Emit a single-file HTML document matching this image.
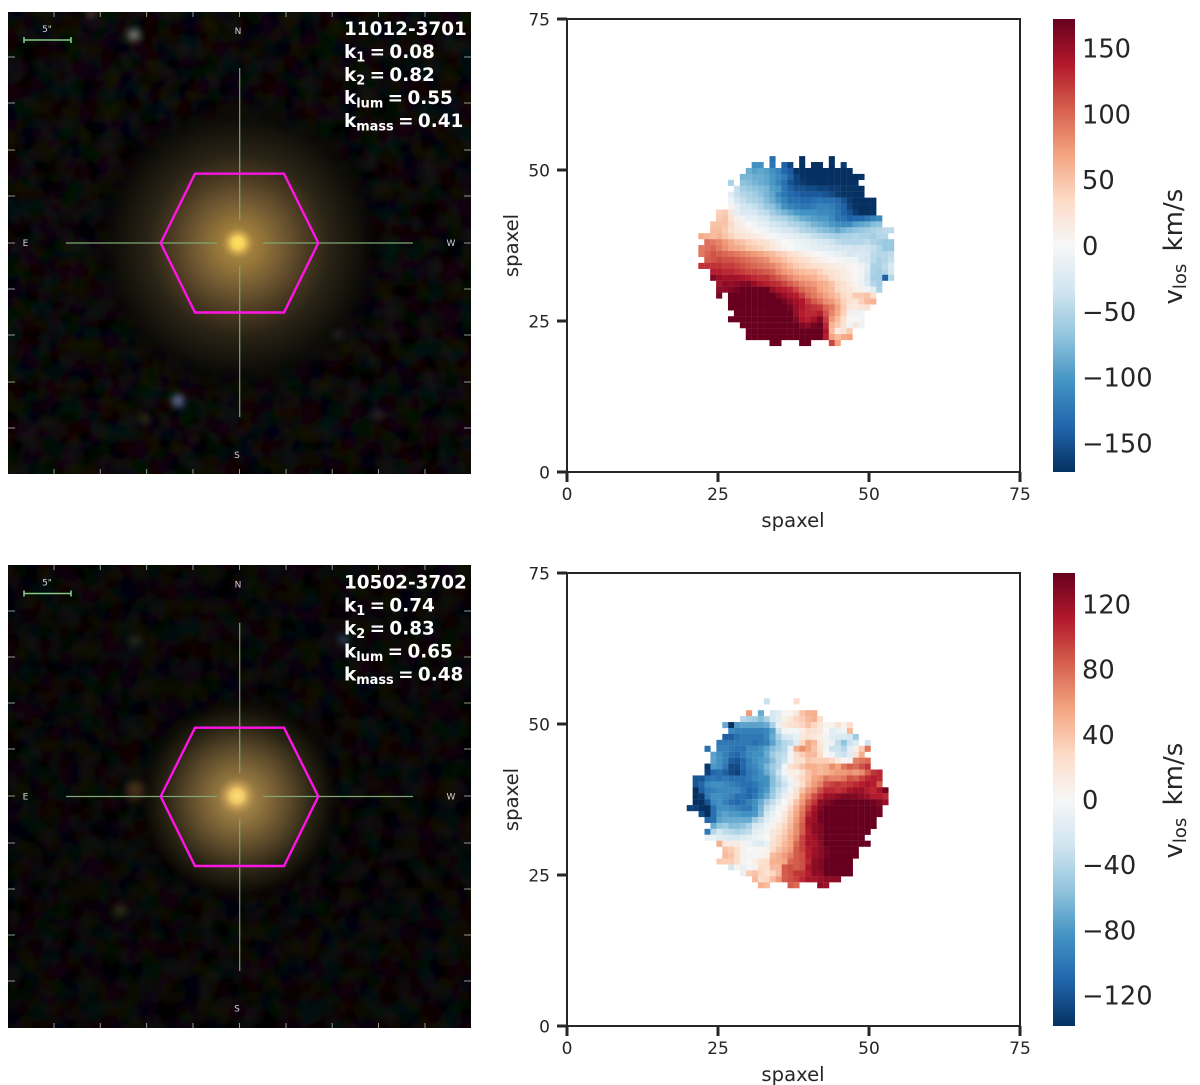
<!DOCTYPE html>
<html lang="en">
<head>
<meta charset="utf-8">
<title>Galaxy images and line-of-sight velocity maps</title>
<style>
html,body{margin:0;padding:0;background:#fff;}
#figure{display:block;width:1200px;height:1085px;font-family:"DejaVu Sans","Liberation Sans",sans-serif;}
.info{font-family:"DejaVu Sans","Liberation Sans",sans-serif;font-weight:bold;font-size:18.4px;fill:#fff;}
.dir{font-family:"DejaVu Sans","Liberation Sans",sans-serif;font-size:9px;fill:#d4d4dc;text-anchor:middle;}
</style>
</head>
<body>
<svg id="figure" xmlns="http://www.w3.org/2000/svg" width="1200" height="1085" viewBox="0 0 1200 1085">
<defs>
<clipPath id="clip-a"><rect x="8" y="12" width="463" height="462"/></clipPath>
<clipPath id="clip-b"><rect x="8" y="565" width="463" height="463"/></clipPath>
<radialGradient id="halo1" gradientUnits="userSpaceOnUse" cx="239" cy="245" r="150">
<stop offset="0" stop-color="#a88840"/><stop offset=".13" stop-color="#9a7a3a"/><stop offset=".3" stop-color="#705832"/><stop offset=".47" stop-color="#473720"/><stop offset=".6" stop-color="#2a2416"/><stop offset=".8" stop-color="#12100a"/><stop offset="1" stop-color="#000" stop-opacity="0"/>
</radialGradient>
<radialGradient id="core1" gradientUnits="userSpaceOnUse" cx="238" cy="243" r="17">
<stop offset="0" stop-color="#ffe45c"/><stop offset=".35" stop-color="#f5cf5c"/><stop offset=".7" stop-color="#d8aa52" stop-opacity=".5"/><stop offset="1" stop-color="#b89448" stop-opacity="0"/>
</radialGradient>
<radialGradient id="halo2" gradientUnits="userSpaceOnUse" cx="239" cy="799" r="105">
<stop offset="0" stop-color="#a88848"/><stop offset=".15" stop-color="#9c7e44"/><stop offset=".3" stop-color="#806638"/><stop offset=".5" stop-color="#574628"/><stop offset=".7" stop-color="#2a2414"/><stop offset=".85" stop-color="#131008"/><stop offset="1" stop-color="#000" stop-opacity="0"/>
</radialGradient>
<radialGradient id="core2" gradientUnits="userSpaceOnUse" cx="237" cy="796" r="19">
<stop offset="0" stop-color="#fde070"/><stop offset=".35" stop-color="#f0c868"/><stop offset=".7" stop-color="#d0a458" stop-opacity=".5"/><stop offset="1" stop-color="#b89550" stop-opacity="0"/>
</radialGradient>
<filter id="soft" x="-100%" y="-100%" width="300%" height="300%"><feGaussianBlur stdDeviation="4"/></filter>
<filter id="noise" x="0" y="0" width="100%" height="100%">
<feTurbulence type="fractalNoise" baseFrequency="0.05" numOctaves="2" seed="7"/>
<feColorMatrix type="matrix" values="1.1 0 0 0 -.42  0 .9 0 0 -.36  0 0 .9 0 -.36  0 0 0 0 .9"/>
</filter>
<linearGradient id="cbar-gradient" x1="0" y1="1" x2="0" y2="0">
<stop offset="0" stop-color="#053061"/><stop offset=".1" stop-color="#2166ac"/><stop offset=".2" stop-color="#4393c3"/><stop offset=".3" stop-color="#92c5de"/><stop offset=".4" stop-color="#d1e5f0"/><stop offset=".5" stop-color="#f7f7f7"/><stop offset=".6" stop-color="#fddbc7"/><stop offset=".7" stop-color="#f4a582"/><stop offset=".8" stop-color="#d6604d"/><stop offset=".9" stop-color="#b2182b"/><stop offset="1" stop-color="#67001f"/>
</linearGradient>
</defs>

<g>
<rect x="8" y="12" width="463" height="462" fill="#000"/>
<rect x="8" y="12" width="463" height="462" filter="url(#noise)" opacity=".13"/>
<circle cx="239" cy="245" r="150" fill="url(#halo1)"/>
<circle cx="238" cy="243" r="17" fill="url(#core1)"/>
<g clip-path="url(#clip-a)">
<circle cx="134" cy="35" r="6" fill="#a89a98" opacity=".8" filter="url(#soft)"/>
<circle cx="91" cy="14" r="5" fill="#8a7a40" opacity=".6" filter="url(#soft)"/>
<circle cx="178" cy="401" r="6" fill="#7a8ab8" opacity=".85" filter="url(#soft)"/>
<circle cx="145" cy="419" r="5" fill="#5a6a30" opacity=".55" filter="url(#soft)"/>
<circle cx="378" cy="415" r="5" fill="#5a4048" opacity=".5" filter="url(#soft)"/>
<circle cx="337" cy="335" r="5" fill="#4a4a40" opacity=".5" filter="url(#soft)"/>
</g>
<g stroke="#7fa673" stroke-width="1.2" fill="none">
<path d="M239.7 68V220"/>
<path d="M239.7 266V417"/>
<path d="M66 243H217"/>
<path d="M263 243H413"/>
</g>
<polygon points="160.7,243 195,173.7 284,173.7 318.3,243 284,312.5 195,312.5" fill="none" stroke="#ff14e6" stroke-width="2.4"/>
<path stroke="#8e9a8e" stroke-width="1" fill="none" d="M54 12v5M100.3 12v5M146.6 12v5M193 12v5M239.5 12v5M286 12v5M332.2 12v5M378.5 12v5M425 12v5M54 474v-5M100.3 474v-5M146.6 474v-5M193 474v-5M239.5 474v-5M286 474v-5M332.2 474v-5M378.5 474v-5M425 474v-5M8 57h7M8 103h7M8 150h7M8 196h7M8 243h7M8 289h7M8 335h7M8 382h7M8 428h7M471 57h-7M471 103h-7M471 150h-7M471 196h-7M471 243h-7M471 289h-7M471 335h-7M471 382h-7M471 428h-7"/>
<path stroke="#86c886" stroke-width="1.6" fill="none" d="M24 40H71M24 37V43M71 37V43"/>
<text class="dir" x="47" y="32">5"</text>
<text class="dir" x="238" y="34">N</text>
<text class="dir" x="25.5" y="246">E</text>
<text class="dir" x="451" y="246">W</text>
<text class="dir" x="237" y="458">S</text>
<g word-spacing="-2">
<text class="info" x="344" y="35">11012-3701</text>
<text class="info" x="344" y="58">k<tspan font-size="12.9" dy="3.5">1</tspan><tspan dy="-3.5"> = 0.08</tspan></text>
<text class="info" x="344" y="81">k<tspan font-size="12.9" dy="3.5">2</tspan><tspan dy="-3.5"> = 0.82</tspan></text>
<text class="info" x="344" y="104">k<tspan font-size="12.9" dy="3.5">lum</tspan><tspan dy="-3.5"> = 0.55</tspan></text>
<text class="info" x="344" y="127">k<tspan font-size="12.9" dy="3.5">mass</tspan><tspan dy="-3.5"> = 0.41</tspan></text>
</g>
</g>

<g>
<rect x="8" y="565" width="463" height="463" fill="#000"/>
<rect x="8" y="565" width="463" height="463" filter="url(#noise)" opacity=".11"/>
<circle cx="239" cy="799" r="105" fill="url(#halo2)"/>
<circle cx="237" cy="796" r="19" fill="url(#core2)"/>
<g clip-path="url(#clip-b)">
<circle cx="135" cy="790" r="10" fill="#6a4528" opacity=".6" filter="url(#soft)"/>
<circle cx="344" cy="640" r="5" fill="#5a78b0" opacity=".6" filter="url(#soft)"/>
<circle cx="120" cy="910" r="6" fill="#4a4a38" opacity=".6" filter="url(#soft)"/>
<circle cx="135" cy="641" r="7" fill="#4a4a20" opacity=".5" filter="url(#soft)"/>
</g>
<g stroke="#7fa673" stroke-width="1.2" fill="none">
<path d="M239.7 622.7V773"/>
<path d="M239.7 819V971"/>
<path d="M66 796.5H217"/>
<path d="M263 796.5H413"/>
</g>
<polygon points="160.7,796.5 195,727.7 284,727.7 318.3,796.5 284,866 195,866" fill="none" stroke="#ff14e6" stroke-width="2.4"/>
<path stroke="#8e9a8e" stroke-width="1" fill="none" d="M54 565v5M100.3 565v5M146.6 565v5M193 565v5M239.5 565v5M286 565v5M332.2 565v5M378.5 565v5M425 565v5M54 1028v-5M100.3 1028v-5M146.6 1028v-5M193 1028v-5M239.5 1028v-5M286 1028v-5M332.2 1028v-5M378.5 1028v-5M425 1028v-5M8 611h7M8 657h7M8 703h7M8 749h7M8 796h7M8 843h7M8 889h7M8 935h7M8 981h7M471 611h-7M471 657h-7M471 703h-7M471 749h-7M471 796h-7M471 843h-7M471 889h-7M471 935h-7M471 981h-7"/>
<path stroke="#86c886" stroke-width="1.6" fill="none" d="M24 593.5H71M24 590.5V596.5M71 590.5V596.5"/>
<text class="dir" x="47" y="585.5">5"</text>
<text class="dir" x="238" y="587.5">N</text>
<text class="dir" x="25.5" y="799.5">E</text>
<text class="dir" x="451" y="799.5">W</text>
<text class="dir" x="237" y="1011.5">S</text>
<g word-spacing="-2">
<text class="info" x="344" y="588.5">10502-3702</text>
<text class="info" x="344" y="611.5">k<tspan font-size="12.9" dy="3.5">1</tspan><tspan dy="-3.5"> = 0.74</tspan></text>
<text class="info" x="344" y="634.5">k<tspan font-size="12.9" dy="3.5">2</tspan><tspan dy="-3.5"> = 0.83</tspan></text>
<text class="info" x="344" y="657.5">k<tspan font-size="12.9" dy="3.5">lum</tspan><tspan dy="-3.5"> = 0.65</tspan></text>
<text class="info" x="344" y="680.5">k<tspan font-size="12.9" dy="3.5">mass</tspan><tspan dy="-3.5"> = 0.48</tspan></text>
</g>
</g>

<g id="map-a"></g>
<g id="map-b"></g>
</svg>

<script>
const _ = null;
const axisTicks = [0, 25, 50, 75];
const axisTickLabels = ["0", "25", "50", "75"];
const rdBuColors = ["#053061","#2166ac","#4393c3","#92c5de","#d1e5f0","#f7f7f7","#fddbc7","#f4a582","#d6604d","#b2182b","#67001f"];

const mapAColorLimit = 172;
const mapAColorTicks = [150, 100, 50, 0, -50, -100, -150];
const mapAColorTickLabels = ["150", "100", "50", "0", "\u221250", "\u2212100", "\u2212150"];
const mapATopRow = 52;
const mapARowStartColumns = [34,31,30,29,27,28,27,27,27,25,25,24,24,22,23,22,22,23,22,24,24,25,25,25,27,27,28,27,29,30,30,34];
const mapAValues = [
[-130,_,_,_,_,-172,_,_,_,_,-172],
[-105,-105,_,-125,_,-140,-160,_,-172,_,-172,-172,_,-172,_,-165],
[-85,-95,-90,-95,-105,-115,-135,-145,-170,-172,-172,-172,-172,-172,-172,-172,-172,-172],
[-80,-80,-85,-85,-90,-100,-110,-120,-140,-160,-170,-172,-172,-172,-172,-172,-172,-172,-172,-172,-170],
[-55,_,-70,-75,-80,-85,-90,-100,-115,-130,-150,-160,-165,-170,-170,-172,-172,-172,-172,-172,-172,-172],
[-40,-60,-65,-70,-75,-80,-95,-100,-125,-140,-150,-150,-155,-155,-160,-160,-165,-165,-170,-170,-170,-172],
[-20,-40,-50,-55,-60,-70,-80,-90,-110,-125,-135,-140,-145,-145,-145,-145,-150,-155,-165,-170,-170,-172,-172],
[-8,-30,-40,-50,-55,-60,-75,-85,-100,-115,-130,-130,-135,-135,-130,-125,-130,-130,-135,-150,-165,-172,-172,-172,-172],
[5,-15,-30,-35,-40,-50,-65,-70,-85,-105,-115,-120,-125,-125,-120,-115,-115,-120,-130,-140,-160,-170,-172,-172,-172],
[40,45,20,-15,-25,-25,-30,-40,-45,-60,-70,-80,-90,-100,-105,-105,-105,-110,-110,-115,-125,-140,-150,-165,-172,-172,-170],
[45,50,25,10,-8,-15,-15,-25,-30,-45,-50,-55,-65,-75,-85,-90,-95,-100,-100,-110,-125,-130,-140,-135,-135,-125,-115,-110],
[50,50,50,35,15,8,0,-5,-15,-18,-30,-35,-40,-50,-55,-60,-70,-80,-85,-90,-100,-105,-110,-110,-95,-90,-85,-75,-70],
[55,55,45,30,20,15,10,3,-3,-10,-15,-20,-30,-30,-40,-50,-55,-60,-70,-75,-80,-90,-80,-75,-70,-65,-60,-55,-50,-45,-45],
[65,60,55,60,50,40,30,25,20,15,10,5,-3,-5,-10,-15,-20,-25,-30,-40,-45,-50,-55,-60,-55,-55,-50,-55,-55,-60,-50,-50],
[95,90,85,75,65,55,50,40,35,30,25,15,8,0,-3,-8,-12,-15,-20,-25,-30,-35,-45,-50,-50,-50,-50,-45,-55,-60,-65,-65],
[90,95,100,90,80,70,65,60,50,45,40,30,20,12,5,0,-5,-8,-10,-15,-20,-20,-25,-30,-30,-30,-35,-30,-35,-40,-50,-65,-65],
[90,100,110,105,100,95,90,85,80,75,70,60,55,45,40,30,25,15,8,3,0,-5,-10,-15,-20,-30,-25,-25,-30,-45,-50,-50,-45],
[105,110,115,110,110,105,100,95,90,85,80,65,60,50,40,35,30,25,15,10,5,0,-3,-5,-10,-10,-25,-30,-45,-55,-50,-40],
[125,125,125,125,120,120,115,110,105,100,95,90,85,75,65,55,45,40,35,30,25,20,15,12,8,5,3,-10,-20,-55,-55,-45,-25],
[135,135,130,130,125,120,115,115,110,105,100,85,75,70,60,55,50,50,40,30,25,20,15,8,3,-5,-25,-55,-60,-50,-30],
[160,150,145,145,145,140,135,130,125,125,115,105,95,85,75,70,65,60,50,45,30,25,15,10,3,-8,-30,-60,-60,-140,-50],
[145,155,150,155,160,160,150,140,135,130,125,115,105,95,85,80,75,65,60,50,35,25,15,5,-10,-25,-50,-60],
[155,155,160,165,172,172,172,172,172,150,140,135,130,115,100,90,85,70,60,55,35,25,20,10,8,-5,-20,-55],
[165,_,172,172,172,172,172,172,172,172,160,150,140,135,120,100,90,80,70,60,50,35,25,45,45,50,30],
[172,172,172,172,172,172,172,172,172,165,155,145,140,120,105,95,80,75,60,40,25,20,40,55,60],
[172,172,172,172,172,172,172,172,172,172,165,150,140,130,125,120,100,90,70,45,20,15,20,25],
[172,172,172,172,172,172,172,172,172,172,150,135,130,130,135,110,85,65,40,10,-10,-5],
[172,172,172,172,172,172,172,172,172,172,172,160,140,135,145,160,120,75,55,30,3,-3,-5],
[172,172,172,172,172,172,172,172,172,172,160,155,165,170,130,60,45,25,-5,20,-10],
[172,172,172,172,172,172,172,172,172,172,172,172,172,140,55,15,25,45],
[172,172,172,172,172,172,172,172,172,172,172,172,172,135,70,55,65,70],
[172,172,_,_,_,172,172,_,_,_,115,70]
];

const mapBColorLimit = 139;
const mapBColorTicks = [120, 80, 40, 0, -40, -80, -120];
const mapBColorTickLabels = ["120", "80", "40", "0", "\u221240", "\u221280", "\u2212120"];
const mapBTopRow = 54;
const mapBRowStartColumns = [33,20,30,29,26,27,26,25,23,24,24,23,23,21,21,21,21,21,20,22,23,24,23,23,25,26,26,25,27,29,31,32];
const mapBValues = [
[-30,_,_,_,_,25],
[],
[60,_,-70,_,-25,-15,3,3,15,40,50,50],
[-40,-45,-50,-60,-45,-25,-15,8,15,30,35,45,50,25],
[-70,-139,-80,-75,-75,-75,-75,-70,-45,-10,15,20,25,30,40,30,15,5,5,20,5,25],
[-90,-95,-95,-95,-95,-95,-90,-75,-30,-5,-3,-3,10,25,20,15,0,-15,-10,-5,45],
[-115,-115,-105,-100,-100,-100,-100,-90,-70,-45,-25,-20,-10,15,20,15,10,-5,-15,-20,-20,-25,-50],
[-100,-100,-100,-100,-100,-100,-105,-100,-95,-75,-55,-40,-35,-15,30,55,45,15,5,-10,-35,-55,-30,-20,_,-28],
[-105,_,-95,-95,-100,-105,-105,-90,-90,-85,-75,-60,-50,-40,-10,50,65,55,40,20,-5,-30,-30,-40,-15,10,35,75],
[-75,-85,-95,-105,-110,-100,-90,-85,-85,-70,-50,-40,-35,-5,25,35,45,45,25,0,-5,-25,-30,-15,20,50],
[-75,-85,-95,-115,-120,-110,-95,-85,-80,-75,-60,-40,-30,-5,20,20,40,35,35,35,30,15,3,5,70,75,80],
[-135,-80,-85,-100,-125,-125,-110,-95,-90,-80,-65,-50,-40,-5,20,30,40,50,50,45,50,65,55,75,85,80,90,100],
[-130,-110,-105,-115,-125,-130,-115,-100,-95,-85,-70,-55,-30,-5,8,8,20,40,50,45,50,55,60,60,65,60,65,85,100,105],
[-120,-120,-105,-100,-105,-100,-105,-105,-105,-100,-90,-85,-85,-60,-40,-20,-5,15,30,40,55,60,75,70,70,75,90,85,95,105,110,105],
[-120,-110,-90,-85,-85,-90,-95,-100,-105,-105,-100,-90,-85,-60,-45,-30,-10,10,25,45,60,70,90,95,100,95,100,105,110,115,110,85],
[-139,-115,-100,-95,-90,-90,-90,-90,-100,-110,-105,-90,-80,-55,-35,-20,-5,20,40,60,70,90,105,105,100,105,115,120,120,110,105,115,135],
[-139,-135,-100,-85,-85,-90,-95,-105,-105,-110,-100,-85,-70,-50,-30,-10,10,25,55,70,90,105,120,120,125,130,130,130,125,120,110,110,105],
[-139,-139,-120,-90,-85,-95,-105,-110,-105,-95,-85,-70,-50,-35,-15,0,15,40,60,85,100,125,130,135,139,139,139,139,139,139,135,130,120],
[-130,-130,-139,-139,-105,-85,-85,-90,-95,-100,-100,-85,-65,-35,-20,-5,5,30,50,70,95,115,130,139,139,139,139,139,139,139,139,139,135],
[-125,-139,-105,-80,-75,-80,-80,-85,-85,-80,-60,-25,-10,0,15,35,55,75,105,120,135,139,139,139,139,139,139,139,139,139,135],
[-110,-105,-75,-70,-70,-70,-70,-70,-50,-35,-15,-5,5,20,40,60,80,115,120,135,139,139,139,139,139,139,139,139,139],
[-70,-55,-50,-60,-60,-55,-45,-25,-20,-5,5,15,30,45,65,85,115,125,130,139,139,139,139,139,139,139,139,139],
[-100,-40,-25,-35,-40,-45,-40,-35,-15,-10,-5,15,20,35,50,65,85,110,125,130,139,139,139,139,139,139,139,139],
[-10,-10,-15,-20,-25,-25,-20,-15,-10,-5,0,15,30,40,55,70,95,115,120,130,139,139,139,139,139,139,139],
[50,15,12,12,5,-5,-15,-20,-10,20,30,45,55,80,95,115,115,125,139,139,139,139,139,139,139,139],
[40,35,25,8,0,-3,3,5,25,40,50,60,85,95,110,120,125,135,139,139,139,139,139],
[45,40,25,5,-5,-3,5,8,45,50,60,70,85,90,110,120,125,135,139,139,139,139,139],
[35,35,35,25,5,0,10,20,25,50,50,55,80,85,90,105,125,130,139,139,139,139,139],
[-25,5,-10,-3,5,25,25,45,45,85,90,85,90,115,125,130,139,139,139,139,139],
[-10,35,40,30,20,30,45,85,90,100,100,110,125,125,139,139,139,139,139],
[45,25,30,45,60,85,90,95,105,115,115,120,125,125,125],
[50,45,_,_,_,85,80,_,_,_,125,120]
];

const SVG_NS = "http://www.w3.org/2000/svg";

function makeNode(parent, tag, attrs, text) {
  const node = document.createElementNS(SVG_NS, tag);
  for (const key in attrs) node.setAttribute(key, attrs[key]);
  if (text !== undefined) node.textContent = text;
  parent.appendChild(node);
  return node;
}

function mixColor(a, b, t) {
  const pa = [1, 3, 5].map(i => parseInt(a.substr(i, 2), 16));
  const pb = [1, 3, 5].map(i => parseInt(b.substr(i, 2), 16));
  return "rgb(" + pa.map((v, i) => Math.round(v + (pb[i] - v) * t)).join(",") + ")";
}

function velocityColor(value, limit) {
  const norm = Math.max(0, Math.min(1, (value + limit) / (2 * limit))) * (rdBuColors.length - 1);
  const idx = Math.min(rdBuColors.length - 2, Math.floor(norm));
  return mixColor(rdBuColors[idx], rdBuColors[idx + 1], norm - idx);
}

function drawMap(host, layout, topRow, startColumns, values, limit, colorTicks, colorTickLabels) {
  const xScale = s => 567 + s * 6.04;
  const yScale = s => layout.bottom - s * 6.04;
  const colorScale = v => layout.bottom - 226.5 - v / limit * 226.5;
  const cellSpan = 0.982;

  const cells = makeNode(host, "g", {});
  
  
  values.forEach((row, rowIndex) => {
    row.forEach((value, colIndex) => {
      if (value === null) return;
      const column = startColumns[rowIndex] + colIndex;
      const cell = makeNode(cells, "rect", {
        x: xScale(layout.leftEdge + (column - layout.firstColumn) * cellSpan),
        y: yScale(layout.topEdge - rowIndex * cellSpan),
        width: 6.08,
        height: 6.08,
        fill: velocityColor(value, limit)
      });
      
      
    });
  });

  const frame = makeNode(host, "rect", { x: 567, y: yScale(75), width: 453, height: 453, fill: "none", stroke: "#262626", "stroke-width": 2 });
  
  

  axisTicks.forEach((tick, i) => {
    const xMark = makeNode(host, "line", { x1: xScale(tick), x2: xScale(tick), y1: layout.bottom, y2: layout.bottom + 10, stroke: "#262626", "stroke-width": 3 });
    
    
    const xLabel = makeNode(host, "text", { x: xScale(tick), y: layout.bottom + 28, "text-anchor": "middle", "font-size": 17, fill: "#262626" }, axisTickLabels[i]);
    
    
    const yMark = makeNode(host, "line", { x1: 557, x2: 567, y1: yScale(tick), y2: yScale(tick), stroke: "#262626", "stroke-width": 3 });
    
    
    const yLabel = makeNode(host, "text", { x: 550, y: yScale(tick) + 6.5, "text-anchor": "end", "font-size": 17, fill: "#262626" }, axisTickLabels[i]);
    
    
  });

  const xTitle = makeNode(host, "text", { x: 793, y: layout.bottom + 55, "text-anchor": "middle", "font-size": 19.6, fill: "#262626" }, "spaxel");
  
  
  const yTitle = makeNode(host, "text", { transform: "translate(518 " + yScale(37.5) + ") rotate(-90)", "text-anchor": "middle", "font-size": 19.6, fill: "#262626" }, "spaxel");
  
  

  const bar = makeNode(host, "rect", { x: 1053, y: yScale(75), width: 22, height: 453, fill: "url(#cbar-gradient)" });
  
  
  colorTicks.forEach((tick, i) => {
    const label = makeNode(host, "text", { x: 1082, y: colorScale(tick) + 9.5, "font-size": 25.7, fill: "#262626" }, colorTickLabels[i]);
    
    
  });

  const barTitle = makeNode(host, "text", { transform: "translate(1182 " + (yScale(37.5) + 59) + ") rotate(-90)", "font-size": 26, fill: "#262626" });
  
  
  makeNode(barTitle, "tspan", {}, "v");
  makeNode(barTitle, "tspan", { "font-size": 18, dy: 4 }, "los");
  makeNode(barTitle, "tspan", { dy: -4, dx: 4 }, " km/s");
}

drawMap(document.getElementById("map-a"), { bottom: 472, firstColumn: 22, leftEdge: 21.74, topEdge: 52.3 }, mapATopRow, mapARowStartColumns, mapAValues, mapAColorLimit, mapAColorTicks, mapAColorTickLabels);
drawMap(document.getElementById("map-b"), { bottom: 1026, firstColumn: 20, leftEdge: 19.82, topEdge: 54.25 }, mapBTopRow, mapBRowStartColumns, mapBValues, mapBColorLimit, mapBColorTicks, mapBColorTickLabels);
</script>
</body>
</html>
